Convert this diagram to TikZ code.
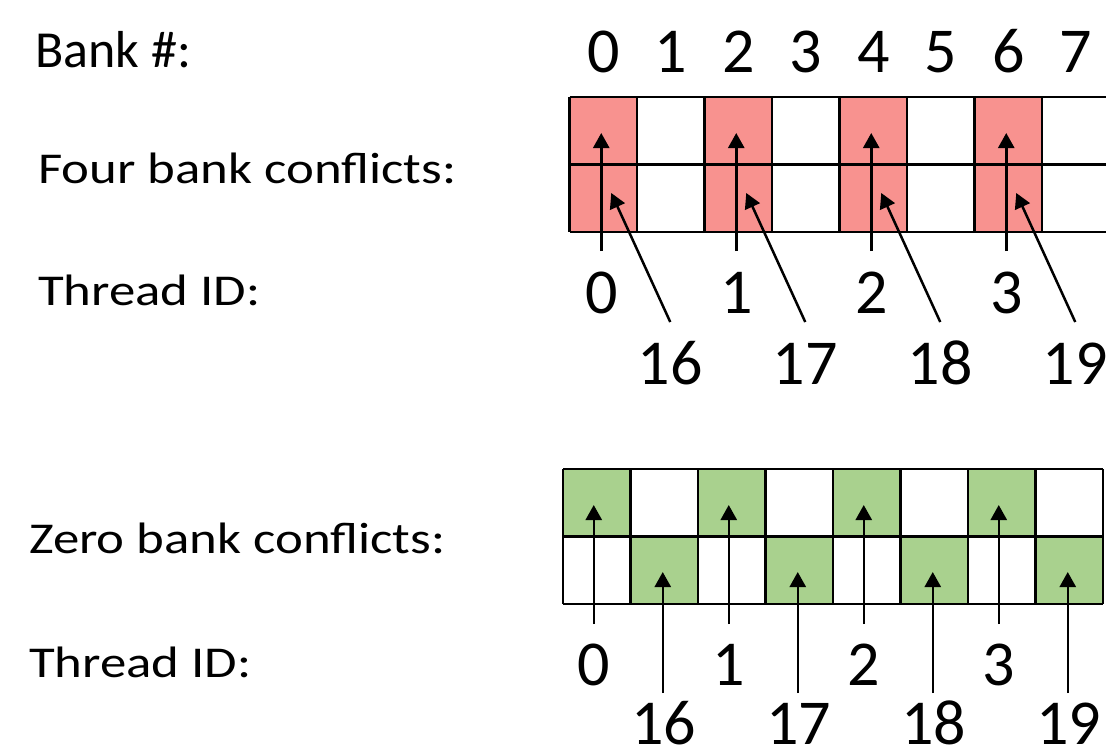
\documentclass[tikz,border=0pt]{standalone}
\usepackage{fontspec}
\setmainfont{Carlito}
\usetikzlibrary{arrows.meta}
\definecolor{redfill}{RGB}{248,146,143}
\definecolor{greenfill}{RGB}{169,209,142}
\begin{document}
\begin{tikzpicture}[x=1pt,y=-1pt,
  gridline/.style={draw=black, line width=2.5pt},
  ptr/.style={draw=black, line width=2.5pt, -{Triangle[width=16pt,length=15pt]}},
  big/.style={font=\fontsize{64}{70}\selectfont, inner sep=0pt, anchor=base, text depth=0pt},
  lbl/.style={font=\fontsize{44}{50}\selectfont, inner sep=0pt, anchor=base west},
  banklbl/.style={font=\fontsize{52}{60}\selectfont, inner sep=0pt, anchor=base west},
]
\useasboundingbox (0,0) rectangle (1106,752);

% left labels
\node[banklbl] (bank) at (35,67) {Bank \#:};
\node[lbl] (four) at (38,183) {\scalebox{1.2}[1]{Four bank conflicts:}};
\node[lbl] (tid1) at (38,305) {\scalebox{1.2}[1]{Thread ID:}};
\node[lbl] (zero) at (29,553) {\scalebox{1.2}[1]{Zero bank conflicts:}};
\node[lbl] (tid2) at (29,677) {\scalebox{1.2}[1]{Thread ID:}};

% bank numbers
\foreach \i in {0,...,7} {
  \node[big] (bn\i) at (603.25+67.5*\i,73) {\i};
}

% top grid
\foreach \c in {0,2,4,6} {
  \fill[redfill] (569.5+67.5*\c,97) rectangle ++(67.5,135);
}
\foreach \y in {97,164.5,232} {
  \draw[gridline] (569.5,\y) -- (1106,\y);
}
\foreach \i in {0,...,7} {
  \draw[gridline] (569.5+67.5*\i,97) -- (569.5+67.5*\i,232);
}

% bottom grid
\foreach \c in {0,2,4,6} {
  \fill[greenfill] (563+67.5*\c,469) rectangle ++(67.5,67.5);
  \fill[greenfill] (563+67.5*\c+67.5,536.5) rectangle ++(67.5,67.5);
}
\foreach \y in {469,536.5,604} {
  \draw[gridline] (563,\y) -- (1103,\y);
}
\foreach \i in {0,...,8} {
  \draw[gridline] (563+67.5*\i,469) -- (563+67.5*\i,604);
}

% top thread arrows and labels
\foreach \k [evaluate=\k as \cx using 603.25+135*\k, evaluate=\k as \hi using int(16+\k)] in {0,...,3} {
  \node[big] (ta\k) at (\cx-2,313) {\k};
  \node[big] (tb\k) at (\cx+67,384) {\hi};
  \coordinate (sa\k) at (\cx-2,251);
  \coordinate (ea\k) at (\cx-2,133);
  \coordinate (sb\k) at (\cx+67,322);
  \coordinate (eb\k) at (\cx+8,193);
  \draw[ptr] (sa\k) -- (ea\k);
  \draw[ptr] (sb\k) -- (eb\k);
}

% bottom thread arrows and labels
\foreach \k [evaluate=\k as \cx using 596.75+135*\k, evaluate=\k as \hi using int(16+\k)] in {0,...,3} {
  \node[big] (ua\k) at (\cx-3,685) {\k};
  \node[big] (ub\k) at (\cx+67,744) {\hi};
  \coordinate (pa\k) at (\cx-3,624);
  \coordinate (qa\k) at (\cx-3,505);
  \coordinate (pb\k) at (\cx+66,693);
  \coordinate (qb\k) at (\cx+66,572);
  \draw[ptr] (pa\k) -- (qa\k);
  \draw[ptr] (pb\k) -- (qb\k);
}
\end{tikzpicture}
\end{document}
